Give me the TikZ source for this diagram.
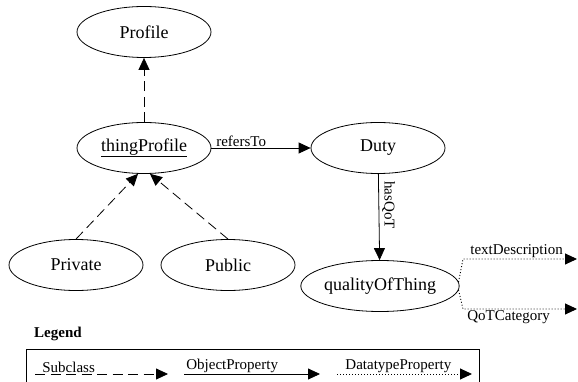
\documentclass[tikz,border=0pt]{standalone}
\usepackage{fontspec}
\setmainfont{Liberation Serif}
\usetikzlibrary{shapes.geometric,arrows.meta}
\begin{document}
\begin{tikzpicture}[x=1pt,y=-1pt,
  cls/.style={ellipse,draw,line width=0.8pt,minimum width=134pt,minimum height=51pt,inner sep=0pt,font=\fontsize{18}{20}\selectfont},
  lbl/.style={font=\fontsize{15}{17}\selectfont,inner sep=1pt},
  tipend/.style={-{Triangle[length=12pt,width=11pt]}},
  subcl/.style={tipend,line width=0.8pt,dash pattern=on 10pt off 5.5pt},
  objp/.style={tipend,line width=0.8pt},
  datp/.style={tipend,line width=0.9pt,dash pattern=on 1pt off 2pt}]
\useasboundingbox (0,0) rectangle (578,382);

% classes
\node[cls] (profile) at (144,32) {Profile};
\node[cls] (thing) at (144,148) {\underline{thingProfile}};
\node[cls] (duty) at (378,148) {Duty};
\node[cls] (priv) at (76,265) {Private};
\node[cls] (pub) at (228,265) {Public};
\node[cls,minimum width=140pt] (qot) at (380,286) {qualityOfThing};

% subclass edges
\draw[subcl] (thing) -- (profile);
\draw[subcl] (priv.north) -- (thing.-103);
\draw[subcl] (pub.north) -- (thing.-77);

% object properties
\draw[objp] (thing) -- node[lbl,above,pos=0.3] {refersTo} (duty);
\draw[objp] (duty) -- node[lbl,rotate=-90,anchor=south,pos=0.36,inner sep=3pt] {hasQoT} (qot);

% datatype properties
\coordinate (td) at (463,259);
\coordinate (tdend) at (577,259);
\coordinate (qc) at (463,309);
\coordinate (qcend) at (577,309);
\draw[datp] (qot.3) -- (td) -- node[lbl,above,pos=0.47] {textDescription} (tdend);
\draw[datp] (qot.-3) -- (qc) -- node[lbl,below,pos=0.4] {QoTCategory} (qcend);

% legend
\node[font=\bfseries\fontsize{15}{17}\selectfont,anchor=west,inner sep=0pt] (legtitle) at (34,334) {Legend};
\draw[line width=0.8pt] (26,383) -- (26,349) -- (479,349) -- (479,383);
\coordinate (l1a) at (35,374);
\coordinate (l1b) at (168,374);
\coordinate (l2a) at (184,374);
\coordinate (l2b) at (320,374);
\coordinate (l3a) at (337,374);
\coordinate (l3b) at (472,374);
\draw[subcl] (l1a) -- node[lbl,pos=0,anchor=south west,xshift=6pt] {Subclass} (l1b);
\draw[objp] (l2a) -- node[lbl,pos=0,anchor=south west,xshift=1pt] {ObjectProperty} (l2b);
\draw[datp] (l3a) -- node[lbl,pos=0,anchor=south west,xshift=7pt] {DatatypeProperty} (l3b);
\end{tikzpicture}
\end{document}
